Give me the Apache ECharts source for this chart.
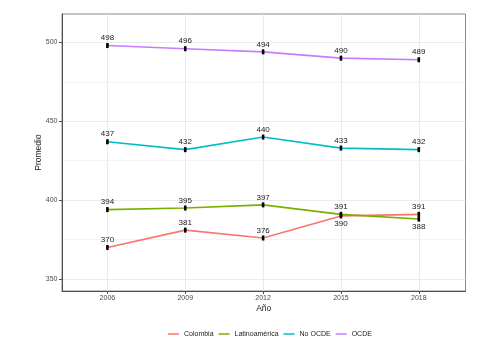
<!DOCTYPE html>
<html><head><meta charset="utf-8">
<script src="https://cdn.jsdelivr.net/npm/echarts@6/dist/echarts.min.js"></script>
<style>html,body{margin:0;padding:0;background:#fff}#c{width:489px;height:339px}</style>
</head><body><div id="c"></div>
<script>
const years = [2006, 2009, 2012, 2015, 2018];
const seriesNames = ['Colombia', 'Latinoamérica', 'No OCDE', 'OCDE'];
const colombia = [370, 381, 376, 390, 391];
const latinoamerica = [394, 395, 397, 391, 388];
const noOcde = [437, 432, 440, 433, 432];
const ocde = [498, 496, 494, 490, 489];
const yTicks = [350, 400, 450, 500];
const yMinor = [375, 425, 475];
const xTicks = [2006, 2009, 2012, 2015, 2018];
const labelsBelow = { 'Colombia': [2015], 'Latinoamérica': [2018] };

const colors = ['#F8766D', '#7CAE00', '#00BFC4', '#C77CFF'];
const values = [colombia, latinoamerica, noOcde, ocde];
const FONT = '"Liberation Sans", Arial, sans-serif';

const series = seriesNames.map((name, i) => ({
  name: name,
  type: 'line',
  xAxisIndex: 0, yAxisIndex: 0,
  data: years.map((y, j) => {
    const below = (labelsBelow[name] || []).indexOf(y) >= 0;
    return { value: [y, values[i][j]], label: { position: below ? 'bottom' : 'top' } };
  }),
  symbol: 'rect',
  symbolSize: [2.6, 5],
  itemStyle: { color: '#000' },
  lineStyle: { color: colors[i], width: 1.6 },
  color: colors[i],
  label: { show: true, fontSize: 8, color: '#1a1a1a', fontFamily: FONT, distance: 1,
           formatter: p => String(p.value[1]) },
  emphasis: { disabled: true },
  animation: false,
  z: 3
}));

const chart = echarts.init(document.getElementById('c'), null, { renderer: 'canvas' });
chart.setOption({
  animation: false,
  grid: { left: 62, top: 14, right: 23.5, bottom: 48, show: true, borderColor: '#8a8a8a', borderWidth: 1, backgroundColor: '#fff' },
  legend: {
    data: seriesNames.map((n, i) => ({ name: n, icon: 'rect', itemStyle: { color: colors[i] } })),
    left: 163, top: 325.5, itemWidth: 11, itemHeight: 1.5, itemGap: 5,
    textStyle: { fontSize: 7, color: '#1a1a1a', fontFamily: FONT }
  },
  xAxis: [{
    type: 'value', min: 2004.25, max: 2019.8,
    name: 'Año', nameLocation: 'middle', nameGap: 13.5, nameMoveOverlap: false,
    nameTextStyle: { fontSize: 8.5, color: '#1a1a1a', fontFamily: FONT },
    axisLine: { show: true, onZero: false, lineStyle: { color: '#4d4d4d', width: 1 } },
    axisTick: { show: true, length: 3, customValues: xTicks, lineStyle: { color: '#4d4d4d' } },
    axisLabel: { customValues: xTicks, fontSize: 7, color: '#4d4d4d', margin: 4, fontFamily: FONT, formatter: v => String(v) },
    splitLine: { show: true, lineStyle: { color: '#ebebeb', width: 1 } }
  }],
  yAxis: [{
    type: 'value', min: 342.4, max: 518,
    name: 'Promedio', nameLocation: 'middle', nameGap: 19, nameRotate: 90, nameMoveOverlap: false,
    nameTextStyle: { fontSize: 8.5, color: '#1a1a1a', fontFamily: FONT },
    axisLine: { show: true, onZero: false, lineStyle: { color: '#4d4d4d', width: 1 } },
    axisTick: { show: true, length: 3, customValues: yTicks, lineStyle: { color: '#4d4d4d' } },
    axisLabel: { customValues: yTicks, fontSize: 7, color: '#4d4d4d', margin: 4.5, fontFamily: FONT },
    splitLine: { show: true, lineStyle: { color: '#ebebeb', width: 1 } }
  }, {
    type: 'value', min: 342.4, max: 518, position: 'left',
    axisLine: { show: false }, axisLabel: { show: false },
    axisTick: { show: false, customValues: yMinor },
    splitLine: { show: true, lineStyle: { color: '#f0f0f0', width: 0.8 } }
  }],
  series: series
});
</script>
</body></html>
